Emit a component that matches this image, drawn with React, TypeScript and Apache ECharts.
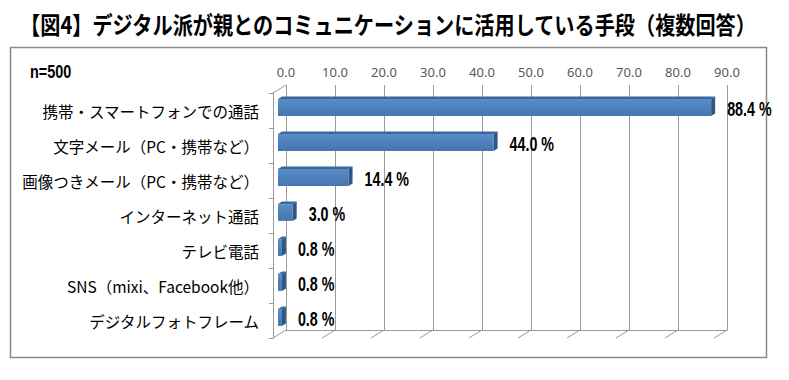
import React, { useEffect, useRef } from "react";
import * as echarts from "echarts";

const titleText = "【図4】デジタル派が親とのコミュニケーションに活用している手段（複数回答）";
const sampleNote = "n=500";
const categories = [
  "携帯・スマートフォンでの通話",
  "文字メール（PC・携帯など）",
  "画像つきメール（PC・携帯など）",
  "インターネット通話",
  "テレビ電話",
  "SNS（mixi、Facebook他）",
  "デジタルフォトフレーム",
];
const values = [88.4, 44.0, 14.4, 3.0, 0.8, 0.8, 0.8];
const xTicks = [0, 10, 20, 30, 40, 50, 60, 70, 80, 90];

const DEPTH_X = 13;
const DEPTH_Y = -8;
const GRID_COLOR = "#9a9a9a";

export default function App() {
  const ref = useRef<HTMLDivElement>(null);
  useEffect(() => {
    if (!ref.current) return;
    const chart = echarts.init(ref.current, null, { renderer: "svg" });
    const frontGrad = new echarts.graphic.LinearGradient(0, 0, 0, 1, [
      { offset: 0, color: "#5b8dca" },
      { offset: 0.45, color: "#4f81bd" },
      { offset: 1, color: "#4576b1" },
    ]);
    const option: any = {
      animation: false,
      backgroundColor: "#ffffff",
      grid: [
        { left: 286, top: 85, width: 441, height: 245, containLabel: false },
        { left: 273, top: 93, width: 441, height: 245, containLabel: false },
      ],
      xAxis: [
        {
          gridIndex: 0,
          type: "value",
          position: "top",
          min: 0,
          max: 90,
          interval: 10,
          axisLine: { show: true, lineStyle: { color: GRID_COLOR, width: 1 } },
          axisTick: { show: true, inside: false, length: 3, lineStyle: { color: GRID_COLOR } },
          splitLine: { show: true, lineStyle: { color: GRID_COLOR, width: 1 } },
          axisLabel: {
            formatter: (v: number) => v.toFixed(1),
            color: "#595959",
            fontSize: 13,
            fontFamily: "Noto Sans",
            margin: 7,
          },
        },
        { gridIndex: 1, type: "value", min: 0, max: 90, show: false },
      ],
      yAxis: [
        { gridIndex: 0, type: "value", show: false },
        {
          gridIndex: 1,
          type: "category",
          data: categories,
          inverse: true,
          axisLine: { show: true, lineStyle: { color: GRID_COLOR, width: 1 } },
          axisTick: { show: true, inside: false, length: 4, lineStyle: { color: GRID_COLOR } },
          splitLine: { show: false },
          axisLabel: {
            color: "#000000",
            fontSize: 15.5,
            fontFamily: "Noto Sans CJK JP",
            margin: 14,
            padding: [4, 0, 0, 0],
          },
        },
      ],
      graphic: [
        {
          type: "rect",
          shape: { x: 10.5, y: 47.5, width: 756, height: 310 },
          style: { fill: "none", stroke: "#8a8a8a", lineWidth: 1.5 },
        },
        {
          type: "text",
          x: 388,
          y: 23,
          scaleX: 0.84,
          style: {
            text: titleText,
            fontSize: 24,
            fontWeight: "bold",
            fontFamily: "Noto Sans CJK JP",
            fill: "#000",
            align: "center",
            verticalAlign: "middle",
            textAlign: "center",
            textVerticalAlign: "middle",
          },
        },
        {
          type: "text",
          x: 30,
          y: 72,
          scaleX: 0.76,
          style: {
            text: sampleNote,
            fontSize: 19,
            fontWeight: "bold",
            fontFamily: "Liberation Sans",
            fill: "#000",
            align: "left",
            verticalAlign: "middle",
            textAlign: "left",
            textVerticalAlign: "middle",
          },
        },
      ],
      series: [
        {
          type: "custom",
          name: "walls",
          xAxisIndex: 1,
          yAxisIndex: 1,
          silent: true,
          data: xTicks.map((v) => [v, categories.length - 1]),
          encode: { x: 0, y: 1 },
          renderItem: (params: any, api: any) => {
            const v = api.value(0);
            const p = api.coord([v, categories.length - 1]);
            const band = api.size([0, 1])[1];
            const yb = p[1] + band / 2;
            const children: any[] = [
              {
                type: "line",
                shape: { x1: p[0], y1: yb, x2: p[0] + DEPTH_X, y2: yb + DEPTH_Y },
                style: { stroke: GRID_COLOR, lineWidth: 1 },
              },
            ];
            if (v === 0) {
              const pt = api.coord([0, 0]);
              const yt = pt[1] - band / 2;
              children.push({
                type: "line",
                shape: { x1: p[0], y1: yt, x2: p[0] + DEPTH_X, y2: yt + DEPTH_Y },
                style: { stroke: GRID_COLOR, lineWidth: 1 },
              });
            }
            return { type: "group", children };
          },
        },
        {
          type: "custom",
          name: "bars",
          xAxisIndex: 1,
          yAxisIndex: 1,
          data: values.map((v, i) => [v, i]),
          encode: { x: 0, y: 1 },
          renderItem: (params: any, api: any) => {
            const v = api.value(0);
            const c = api.value(1);
            const p0 = api.coord([0, c]);
            const p1 = api.coord([v, c]);
            const band = api.size([0, 1])[1];
            const h = band * 0.48;
            const x0 = p0[0] + 5;
            const x1 = p1[0] + 5;
            const yc = p0[1] - 3;
            const yt = yc - h / 2;
            const yb = yc + h / 2;
            const dx = 4;
            const dy = -2.5;
            return {
              type: "group",
              children: [
                {
                  type: "polygon",
                  shape: { points: [[x0, yt], [x1, yt], [x1 + dx, yt + dy], [x0 + dx, yt + dy]] },
                  style: { fill: "#3d679c" },
                },
                {
                  type: "rect",
                  shape: { x: x0, y: yt, width: Math.max(x1 - x0, 1), height: h },
                  style: { fill: frontGrad },
                },
                {
                  type: "polygon",
                  shape: { points: [[x1, yt], [x1 + dx, yt + dy], [x1 + dx, yb + dy], [x1, yb]] },
                  style: { fill: "#2f5687" },
                },
                {
                  type: "text",
                  x: x1 + 16,
                  y: yc + 1,
                  scaleX: 0.68,
                  style: {
                    text: v.toFixed(1) + " %",
                    fontSize: 21,
                    fontWeight: "bold",
                    fontFamily: "Liberation Sans",
                    fill: "#000",
                    align: "left",
                    verticalAlign: "middle",
                    textAlign: "left",
                    textVerticalAlign: "middle",
                  },
                },
              ],
            };
          },
        },
      ],
    };
    chart.setOption(option);
    return () => chart.dispose();
  }, []);
  return (
    <div
      ref={ref}
      style={{ position: "absolute", left: 0, top: 0, width: 789, height: 380 }}
    />
  );
}
